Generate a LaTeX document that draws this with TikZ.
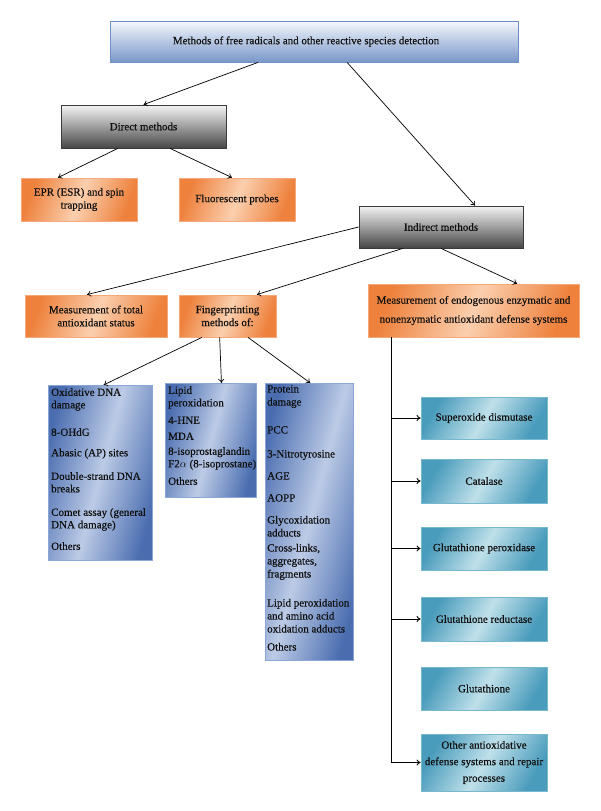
\documentclass[tikz,border=0pt]{standalone}
\usepackage{fontspec}
\setmainfont{Liberation Serif}[FakeBold=0.4]
\usetikzlibrary{arrows.meta,calc}

\definecolor{textdark}{HTML}{101010}
\definecolor{headtop}{HTML}{F5F7FC}
\definecolor{headbottom}{HTML}{7897C9}
\definecolor{headline}{HTML}{7090C8}
\definecolor{graytop}{HTML}{F4F4F4}
\definecolor{graybottom}{HTML}{474747}
\definecolor{grayline}{HTML}{3A3A3A}
\definecolor{orangedark}{HTML}{EE813C}
\definecolor{orangelight}{HTML}{FBCFAE}
\definecolor{orangeline}{HTML}{F5A97A}
\definecolor{listdark}{HTML}{4A6DB0}
\definecolor{listlight}{HTML}{BCCBE6}
\definecolor{listline}{HTML}{8AA6D6}
\definecolor{tealdark}{HTML}{4A9CBC}
\definecolor{teallight}{HTML}{BFE0EA}
\definecolor{tealline}{HTML}{78B8CF}

\begin{document}
\begin{tikzpicture}[x=1pt,y=-1pt,
    every node/.style={font=\fontsize{11}{13}\selectfont, text=textdark},
    box/.style={rectangle, inner sep=2pt, align=center, line width=0.8pt},
    headbox/.style={box, draw=headline, top color=headtop, bottom color=headbottom},
    graybox/.style={box, draw=grayline, top color=graytop, bottom color=graybottom},
    orangebox/.style={box, draw=orangeline, left color=orangedark, right color=orangedark, middle color=orangelight, shading angle=70},
    listbox/.style={box, draw=listline, left color=listdark, right color=listdark, middle color=listlight, shading angle=75},
    listtext/.style={anchor=north west, align=left, inner sep=3pt, font=\fontsize{11}{12.5}\selectfont},
    tealbox/.style={box, draw=tealline, left color=tealdark, right color=tealdark, middle color=teallight, shading angle=60, minimum width=126pt},
    link/.style={-{To[length=4pt,width=6pt]}, line width=0.7pt}
  ]
  \useasboundingbox (0,0) rectangle (600,811);

  % top level
  \node[headbox, minimum width=408pt, minimum height=41pt] (top) at (314,41.5) {Methods of free radicals and other reactive species detection\hspace{16pt}};

  % direct branch
  \node[graybox, minimum width=165pt, minimum height=43pt] (direct) at (143.5,126.5) {Direct methods};
  \node[orangebox, minimum width=116pt, minimum height=43pt] (epr) at (79,199.5) {EPR (ESR) and spin\\trapping};
  \node[orangebox, minimum width=116pt, minimum height=43pt] (fluor) at (237,199.5) {Fluorescent probes};

  % indirect branch
  \node[graybox, minimum width=164pt, minimum height=42pt] (indirect) at (441,227) {Indirect methods};
  \node[orangebox, minimum width=142pt, minimum height=42pt] (total) at (96,316) {Measurement of total\\antioxidant status};
  \node[orangebox, minimum width=97pt, minimum height=42pt] (finger) at (227.5,316) {Fingerprinting\\methods of:};
  \node[orangebox, minimum width=211pt, minimum height=53pt, font=\fontsize{11}{19}\selectfont] (endo) at (473.5,310.5) {Measurement of endogenous enzymatic and\\nonenzymatic antioxidant defense systems};

  % fingerprint lists
  \node[listbox, anchor=north west, minimum width=104pt, minimum height=175pt] (dna) at (48,385) {};
  \node[listtext] (dnatext) at (dna.north west) {Oxidative DNA\\damage\\[15pt]8-OHdG\\[8pt]Abasic (AP) sites\\[11pt]Double-strand DNA\\breaks\\[11pt]Comet assay (general\\DNA damage)\\[9pt]Others};
  \node[listbox, anchor=north west, minimum width=91pt, minimum height=114pt] (lipid) at (165,383) {};
  \node[listtext] (lipidtext) at (lipid.north west) {Lipid\\peroxidation\\[5pt]4-HNE\\[3.5pt]MDA\\[2.5pt]8-isoprostaglandin\\F2$\alpha$ (8-isoprostane)\\[5pt]Others};
  \node[listbox, anchor=north west, minimum width=88pt, minimum height=277pt] (protein) at (265,383) {};
  \node[listtext, inner sep=2pt, font=\fontsize{11}{13}\selectfont] (proteintext) at (protein.north west) {Protein\\damage\\[15pt]PCC\\[11pt]3-Nitrotyrosine\\[9pt]AGE\\[9pt]AOPP\\[9pt]Glycoxidation\\adducts\\[2pt]Cross-links,\\aggregates,\\fragments\\[16pt]Lipid peroxidation\\and amino acid\\oxidation adducts\\[5pt]Others};

  % antioxidant defense systems
  \node[tealbox, minimum height=42pt] (sod) at (484,418) {Superoxide dismutase};
  \node[tealbox, minimum height=44pt] (cat) at (484,481) {Catalase};
  \node[tealbox, minimum height=43pt] (gpx) at (484,548.5) {Glutathione peroxidase};
  \node[tealbox, minimum height=44pt] (gr) at (484,619) {Glutathione reductase};
  \node[tealbox, minimum height=43pt] (gsh) at (484,688.5) {Glutathione};
  \node[tealbox, minimum height=57pt, font=\fontsize{11}{16.5}\selectfont] (other) at (484,762.5) {Other antioxidative\\defense systems and repair\\processes};

  % connectors
  \draw[link] ($(top.south west)!0.363!(top.south east)$) -- (direct.north);
  \draw[link] ($(top.south west)!0.581!(top.south east)$) -- ($(indirect.north west)!0.707!(indirect.north east)$);
  \draw[link] ($(direct.south west)!0.345!(direct.south east)$) -- ($(epr.north west)!0.32!(epr.north east)$);
  \draw[link] ($(direct.south west)!0.66!(direct.south east)$) -- ($(fluor.north west)!0.457!(fluor.north east)$);
  \draw[link] (indirect.west) -- ($(total.north west)!0.437!(total.north east)$);
  \draw[link] ($(indirect.south west)!0.268!(indirect.south east)$) -- ($(finger.north west)!0.8!(finger.north east)$);
  \draw[link] (indirect.south) -- ($(endo.north west)!0.706!(endo.north east)$);
  \draw[link] ($(finger.south west)!0.237!(finger.south east)$) -- ($(dna.north west)!0.53!(dna.north east)$);
  \draw[link] ($(finger.south west)!0.42!(finger.south east)$) -- ($(lipid.north west)!0.615!(lipid.north east)$);
  \draw[link] ($(finger.south west)!0.71!(finger.south east)$) -- ($(protein.north west)!0.51!(protein.north east)$);

  \coordinate (spine) at ($(endo.south west)!0.114!(endo.south east)$);
  \draw[link, line width=0.9pt] (spine) |- (other.west);
  \foreach \b in {sod,cat,gpx,gr}
    \draw[link, line width=0.9pt] (spine |- \b.west) -- (\b.west);
\end{tikzpicture}
\end{document}
